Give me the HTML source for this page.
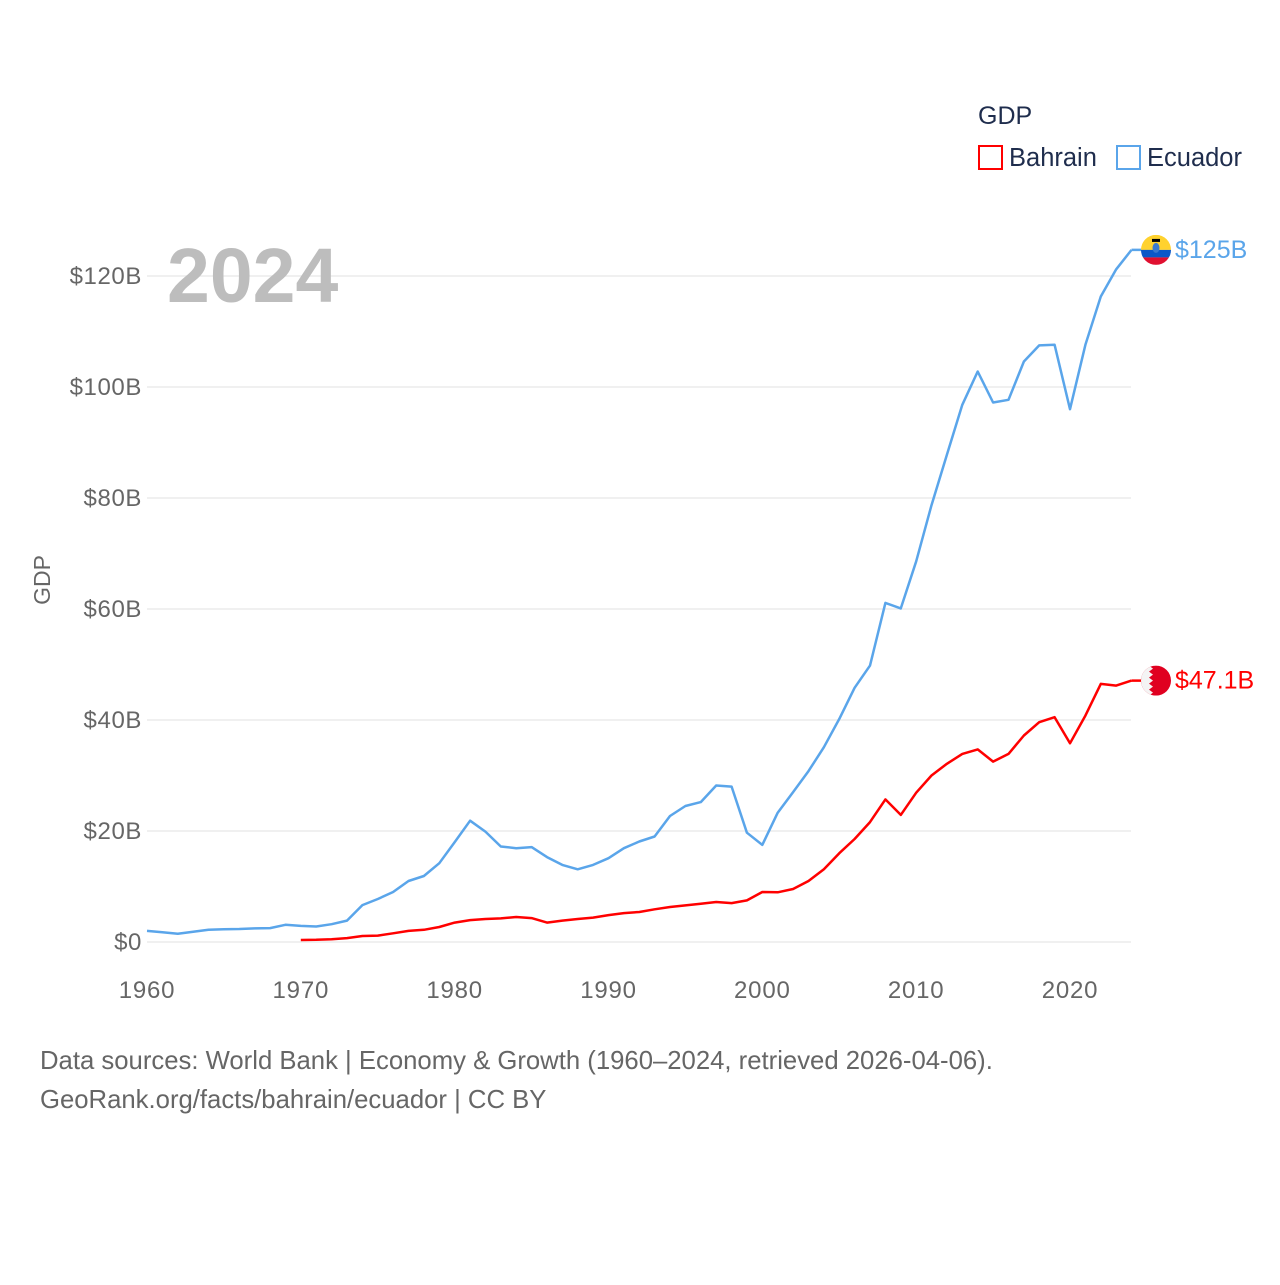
<!DOCTYPE html>
<html><head><meta charset="utf-8"><style>
body{margin:0;background:#fff;width:1280px;height:1280px;overflow:hidden;font-family:"Liberation Sans",sans-serif}
svg text{font-family:"Liberation Sans",sans-serif}
</style></head><body>
<svg id="chart" width="1280" height="1280" viewBox="0 0 1280 1280">
<defs>
<clipPath id="cb"><circle cx="1156" cy="680.6" r="15"/></clipPath>
</defs>
<g id="grid"></g>
<g id="yticks"></g>
<g id="xticks"></g>
<text x="167" y="302" font-size="77" font-weight="bold" fill="#bdbdbd">2024</text>
<text transform="translate(50,580) rotate(-90)" text-anchor="middle" font-size="23" fill="#666">GDP</text>
<g id="lines"></g>
<g>
<text x="978" y="124" font-size="25" fill="#1f2d4d">GDP</text>
<rect x="979" y="146" width="23" height="23" fill="none" stroke="#ff0000" stroke-width="2"/>
<text x="1009" y="166" font-size="25.5" fill="#1f2d4d">Bahrain</text>
<rect x="1117" y="146" width="23" height="23" fill="none" stroke="#5aa5ea" stroke-width="2"/>
<text x="1147" y="166" font-size="25.5" fill="#1f2d4d">Ecuador</text>
</g>
<g id="ends"></g>
<text x="40" y="1069" font-size="25.7" fill="#666">Data sources: World Bank | Economy &amp; Growth (1960–2024, retrieved 2026-04-06).</text>
<text x="40" y="1108" font-size="25.7" fill="#666">GeoRank.org/facts/bahrain/ecuador | CC BY</text>
</svg>
<script>
const ecuadorYears=[];for(let y=1960;y<=2024;y++)ecuadorYears.push(y);
const ecuadorGdp=[2.0,1.75,1.5,1.85,2.2,2.3,2.35,2.45,2.5,3.1,2.9,2.8,3.2,3.85,6.65,7.75,9.0,11.0,11.9,14.2,18.0,21.85,19.9,17.2,16.9,17.1,15.3,13.9,13.1,13.9,15.1,16.9,18.1,19.0,22.7,24.5,25.2,28.2,28.0,19.7,17.5,23.3,27.0,30.8,35.1,40.2,45.8,49.8,61.1,60.1,68.6,78.7,87.8,96.8,102.8,97.2,97.7,104.6,107.5,107.6,96.0,107.6,116.3,121.2,124.7];
const bahrainYears=[];for(let y=1970;y<=2024;y++)bahrainYears.push(y);
const bahrainGdp=[0.36,0.4,0.5,0.7,1.08,1.15,1.56,2.0,2.2,2.7,3.5,3.95,4.15,4.25,4.5,4.3,3.5,3.85,4.15,4.4,4.85,5.2,5.4,5.9,6.3,6.6,6.9,7.2,7.0,7.5,9.0,8.95,9.55,11.0,13.1,16.0,18.55,21.6,25.7,22.9,26.9,30.0,32.1,33.9,34.7,32.5,33.9,37.2,39.6,40.5,35.8,40.8,46.5,46.2,47.1];
const yTicks=[0,20,40,60,80,100,120];
const yTickLabels=["$0","$20B","$40B","$60B","$80B","$100B","$120B"];
const xTicks=[1960,1970,1980,1990,2000,2010,2020];
const endLabels=["$125B","$47.1B"];
const NS="http://www.w3.org/2000/svg";
const x=v=>147+(v-1960)*(923/60);
const y=v=>942-v*(666/120);
function mk(tag,attrs,parent){const e=document.createElementNS(NS,tag);for(const k in attrs)e.setAttribute(k,attrs[k]);parent.appendChild(e);return e;}
const grid=document.getElementById('grid'),yt=document.getElementById('yticks'),xt=document.getElementById('xticks');
yTicks.forEach((t,i)=>{
 const l=mk('line',{x1:147,x2:1131,y1:y(t),y2:y(t),stroke:'#ebebeb','stroke-width':1.5},grid);
 
 
 const tx=mk('text',{x:142,y:y(t)+8,'text-anchor':'end','font-size':24,'letter-spacing':0.6,fill:'#666'},yt);
 tx.textContent=yTickLabels[i];
 
 
});
xTicks.forEach(t=>{
 const tx=mk('text',{x:x(t),y:998,'text-anchor':'middle','font-size':24,'letter-spacing':0.8,fill:'#666'},xt);
 tx.textContent=t;
 
 
});
const lines=document.getElementById('lines');
function path(xs,vs){return xs.map((v,i)=>(i?'L':'M')+x(v).toFixed(1)+','+y(vs[i]).toFixed(1)).join('');}
const pe=mk('path',{d:path(ecuadorYears,ecuadorGdp),fill:'none',stroke:'#5aa5ea','stroke-width':2.5,'stroke-linejoin':'round'},lines);


const pb=mk('path',{d:path(bahrainYears,bahrainGdp),fill:'none',stroke:'#ff0000','stroke-width':2.5,'stroke-linejoin':'round'},lines);


const ends=document.getElementById('ends');
const ey=y(ecuadorGdp[ecuadorGdp.length-1]),by=y(bahrainGdp[bahrainGdp.length-1]);
const cx=1156;
mk('line',{x1:x(2024),x2:cx,y1:ey,y2:ey,stroke:'#5aa5ea','stroke-width':2.5},ends);
mk('line',{x1:x(2024),x2:cx,y1:by,y2:by,stroke:'#ff0000','stroke-width':2.5},ends);
const fe=mk('g',{},ends);


mk('clipPath',{id:'ce'},fe);mk('circle',{cx:cx,cy:ey,r:15},document.getElementById('ce'));
mk('rect',{x:cx-15,y:ey-15,width:30,height:15,fill:'#ffd22e','clip-path':'url(#ce)'},fe);
mk('rect',{x:cx-15,y:ey,width:30,height:7.5,fill:'#0c58c8','clip-path':'url(#ce)'},fe);
mk('rect',{x:cx-15,y:ey+7.5,width:30,height:7.5,fill:'#e01030','clip-path':'url(#ce)'},fe);
mk('ellipse',{cx:cx,cy:ey-2,rx:3.5,ry:5,fill:'#3a7ad0'},fe);
mk('rect',{x:cx-4,y:ey-11,width:8,height:3,fill:'#000'},fe);
const fb=mk('g',{'clip-path':'url(#cb)'},ends);


mk('rect',{x:cx-15,y:by-15,width:30,height:30,fill:'#e00020'},fb);
mk('path',{d:`M${cx-15},${by-15} L${cx-7},${by-15} L${cx-3},${by-12} L${cx-7},${by-9} L${cx-3},${by-6} L${cx-7},${by-3} L${cx-3},${by} L${cx-7},${by+3} L${cx-3},${by+6} L${cx-7},${by+9} L${cx-3},${by+12} L${cx-7},${by+15} L${cx-15},${by+15}Z`,fill:'#f4f4f4'},fb);
const te=mk('text',{x:1175,y:ey+8,'font-size':25,fill:'#5aa5ea'},ends);
te.textContent=endLabels[0];


const tb=mk('text',{x:1175,y:by+8,'font-size':25,fill:'#ff0000'},ends);
tb.textContent=endLabels[1];


</script>
</body></html>
